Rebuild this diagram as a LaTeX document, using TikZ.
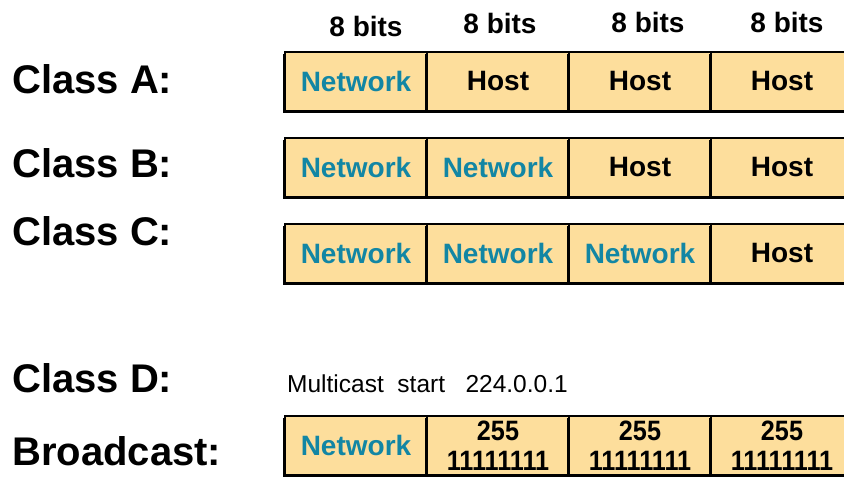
\documentclass[tikz,border=0pt]{standalone}
\usepackage{fontspec}
\setmainfont{Liberation Sans}
\newfontfamily\digitfont[FakeStretch=0.9]{Liberation Sans}
\usetikzlibrary{positioning,shadows}
\definecolor{cellfill}{RGB}{253,222,156}
\definecolor{nettext}{RGB}{18,134,164}
\tikzset{
    rowlabel/.style={anchor=base west, inner sep=0pt, font=\fontsize{40}{44}\selectfont\bfseries},
    bitlabel/.style={anchor=base, inner sep=0pt, font=\fontsize{28}{30}\selectfont\bfseries},
    cell/.style={draw=black, line width=1.3pt, fill=cellfill, minimum width=142pt, minimum height=59pt,
        inner sep=0pt, outer sep=0pt, font=\fontsize{28}{30}\selectfont\bfseries,
        drop shadow={shadow xshift=-2pt, shadow yshift=-2pt, opacity=1, fill=black}},
    net/.style={text=nettext},
    numtext/.style={anchor=base, inner sep=0pt, font=\digitfont\fontsize{28}{30}\selectfont\bfseries}
}
\begin{document}
\begin{tikzpicture}[x=1pt, y=1pt]
    \useasboundingbox (0,0) rectangle (844,477);
    % Row labels
    \node[rowlabel] (la) at (12,383) {Class A:};
    \node[rowlabel] (lb) at (12,299) {Class B:};
    \node[rowlabel] (lc) at (12,231) {Class C:};
    \node[rowlabel] (ld) at (12,84) {Class D:};
    \node[rowlabel] (le) at (12,12) {Broadcast:};
    % Octet widths
    \node[bitlabel] (w1) at (366,440) {8 bits};
    \node[bitlabel] (w2) at (500,443) {8 bits};
    \node[bitlabel] (w3) at (648,444) {8 bits};
    \node[bitlabel] (w4) at (787,444) {8 bits};
    % Class A
    \node[cell,net,anchor=north west] (a1) at (285,425) {Network};
    \node[cell,right=0pt of a1] (a2) {Host};
    \node[cell,right=0pt of a2] (a3) {Host};
    \node[cell,right=0pt of a3] (a4) {Host};
    % Class B
    \node[cell,net,anchor=north west] (b1) at (285,339) {Network};
    \node[cell,net,right=0pt of b1] (b2) {Network};
    \node[cell,right=0pt of b2] (b3) {Host};
    \node[cell,right=0pt of b3] (b4) {Host};
    % Class C
    \node[cell,net,anchor=north west] (c1) at (285,253) {Network};
    \node[cell,net,right=0pt of c1] (c2) {Network};
    \node[cell,net,right=0pt of c2] (c3) {Network};
    \node[cell,right=0pt of c3] (c4) {Host};
    % Class D
    \node[anchor=base west, inner sep=0pt, font=\fontsize{24.5}{26}\selectfont] (mc) at (287,84)
        {Multicast\ \ start\ \ \ 224.0.0.1};
    % Broadcast
    \node[cell,net,anchor=north west] (e1) at (285,61) {Network};
    \node[cell,right=0pt of e1] (e2) {};
    \node[cell,right=0pt of e2] (e3) {};
    \node[cell,right=0pt of e3] (e4) {};
    \foreach \c in {e2,e3,e4} {
        \node[numtext] (\c-dec) at ([yshift=4.5pt]\c.center) {255};
        \node[numtext] (\c-bin) at ([yshift=-25.5pt]\c.center) {11111111};
    }
\end{tikzpicture}
\end{document}
